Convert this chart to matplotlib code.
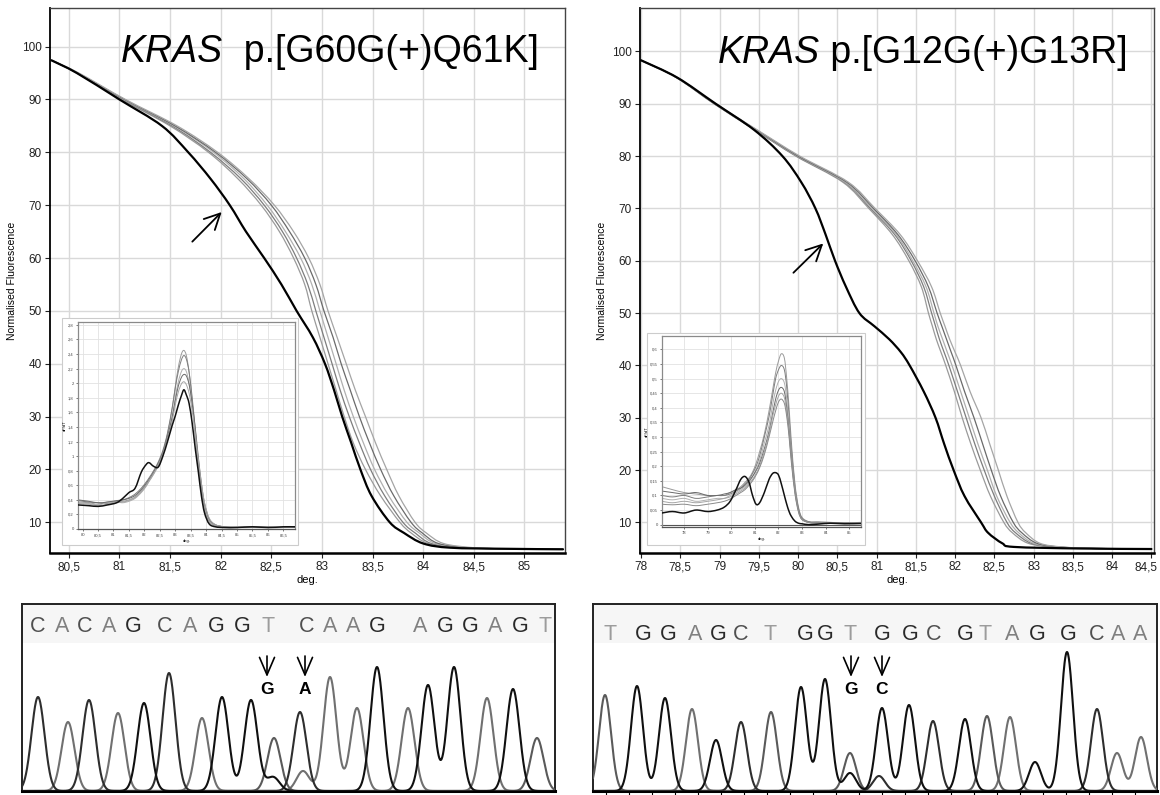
import numpy as np
import matplotlib
matplotlib.use('Agg')
import matplotlib.pyplot as plt
from matplotlib.patches import Rectangle, PathPatch
from matplotlib.path import Path
from matplotlib.transforms import ScaledTranslation

plt.rcParams['font.family'] = ['Liberation Sans', 'DejaVu Sans']

W, H = 1160, 795

# ---- melting curves: temperature (deg.) at which each curve crosses a fluorescence level ----
fluor_ticks = [10, 20, 30, 40, 50, 60, 70, 80, 90, 100]

left_levels = [97.4, 95, 90, 85, 80, 75, 70, 65, 60, 55, 50, 45, 40, 35, 30, 25, 20, 15, 10, 8, 6, 5.2, 5.0, 4.9]
left_mut = [80.33, 80.58, 81.0, 81.42, 81.68, 81.9, 82.09, 82.25, 82.43, 82.6, 82.75, 82.91, 83.03, 83.12,
            83.2, 83.29, 83.38, 83.49, 83.67, 83.81, 84.0, 84.27, 84.8, 85.38]
left_wt = [
    [80.33, 80.58, 81.02, 81.5, 81.88, 82.17, 82.4, 82.58, 82.72, 82.83, 82.9, 82.98, 83.06, 83.14,
     83.22, 83.31, 83.43, 83.58, 83.77, 83.88, 84.05, 84.35, 84.8, 85.38],
    [80.33, 80.58, 81.03, 81.52, 81.9, 82.2, 82.43, 82.61, 82.75, 82.86, 82.94, 83.02, 83.1, 83.18,
     83.27, 83.37, 83.48, 83.62, 83.8, 83.92, 84.08, 84.38, 84.8, 85.38],
    [80.33, 80.59, 81.04, 81.54, 81.93, 82.23, 82.46, 82.64, 82.79, 82.9, 82.98, 83.06, 83.14, 83.22,
     83.31, 83.41, 83.52, 83.66, 83.84, 83.96, 84.12, 84.42, 84.8, 85.38],
    [80.33, 80.59, 81.05, 81.55, 81.95, 82.26, 82.5, 82.68, 82.83, 82.94, 83.02, 83.11, 83.19, 83.28,
     83.37, 83.47, 83.58, 83.71, 83.88, 83.99, 84.15, 84.45, 84.8, 85.38],
    [80.33, 80.6, 81.06, 81.57, 81.97, 82.28, 82.53, 82.72, 82.87, 82.98, 83.06, 83.15, 83.24, 83.33,
     83.43, 83.53, 83.64, 83.76, 83.92, 84.03, 84.2, 84.5, 84.8, 85.38],
]
left_xticks = [80.5, 81, 81.5, 82, 82.5, 83, 83.5, 84, 84.5, 85]

right_levels = [98.3, 95, 90, 85, 80, 75, 70, 65, 60, 55, 50, 47.5, 45, 42.5, 40, 35, 30, 25, 20, 15, 10, 8, 6, 5.3, 5.0, 4.9]
right_mut = [78.0, 78.46, 78.95, 79.44, 79.8, 80.04, 80.22, 80.35, 80.47, 80.61, 80.78, 80.97, 81.16, 81.31,
             81.42, 81.6, 81.75, 81.86, 81.98, 82.12, 82.33, 82.42, 82.6, 82.75, 83.6, 84.5]
right_wt = [
    [78.0, 78.45, 78.93, 79.45, 79.97, 80.57, 80.9, 81.2, 81.41, 81.57, 81.66, 81.71, 81.76, 81.82,
     81.88, 81.99, 82.09, 82.2, 82.32, 82.45, 82.62, 82.73, 82.93, 83.25, 83.8, 84.5],
    [78.0, 78.45, 78.93, 79.45, 79.98, 80.59, 80.92, 81.23, 81.44, 81.6, 81.7, 81.75, 81.8, 81.86,
     81.92, 82.03, 82.14, 82.25, 82.37, 82.5, 82.66, 82.77, 82.97, 83.28, 83.8, 84.5],
    [78.0, 78.45, 78.94, 79.46, 79.99, 80.6, 80.94, 81.25, 81.46, 81.63, 81.73, 81.78, 81.84, 81.9,
     81.96, 82.07, 82.18, 82.29, 82.41, 82.53, 82.7, 82.81, 83.0, 83.3, 83.8, 84.5],
    [78.0, 78.46, 78.94, 79.47, 80.0, 80.62, 80.96, 81.27, 81.49, 81.66, 81.77, 81.83, 81.89, 81.95,
     82.01, 82.12, 82.24, 82.35, 82.46, 82.58, 82.74, 82.85, 83.04, 83.33, 83.8, 84.5],
    [78.0, 78.46, 78.95, 79.48, 80.02, 80.64, 80.98, 81.3, 81.52, 81.7, 81.81, 81.87, 81.93, 82.0,
     82.07, 82.19, 82.33, 82.44, 82.55, 82.66, 82.8, 82.9, 83.08, 83.36, 83.8, 84.5],
]
right_xticks = [78, 78.5, 79, 79.5, 80, 80.5, 81, 81.5, 82, 82.5, 83, 83.5, 84, 84.5]

# ---- derivative insets ----
ins_l_t = [79.85, 80.2, 80.5, 80.8, 81.1, 81.3, 81.5, 81.7, 81.9, 82.05, 82.15, 82.3, 82.45, 82.6, 82.75,
           82.9, 83.0, 83.1, 83.2, 83.28, 83.36, 83.45, 83.55, 83.65, 83.75, 83.85, 83.95, 84.1, 84.3,
           84.6, 85.0, 85.5, 86.0, 86.5, 86.88]
ins_l_mut = [0.33, 0.32, 0.31, 0.33, 0.36, 0.42, 0.5, 0.56, 0.78, 0.88, 0.91, 0.86, 0.85, 1.0, 1.2,
             1.42, 1.55, 1.7, 1.83, 1.91, 1.84, 1.72, 1.45, 1.1, 0.78, 0.45, 0.22, 0.07, 0.03,
             0.02, 0.02, 0.03, 0.02, 0.03, 0.03]
ins_l_wt = [
    [0.37, 0.36, 0.34, 0.37, 0.38, 0.38, 0.4, 0.44, 0.52, 0.6, 0.66, 0.76, 0.88, 1.05, 1.3, 1.65, 1.95,
     2.22, 2.4, 2.45, 2.38, 2.15, 1.75, 1.28, 0.85, 0.5, 0.26, 0.1, 0.04, 0.02, 0.02, 0.03, 0.02, 0.02, 0.03],
    [0.39, 0.37, 0.36, 0.35, 0.38, 0.4, 0.43, 0.48, 0.56, 0.64, 0.7, 0.8, 0.92, 1.08, 1.32, 1.66, 1.93,
     2.16, 2.32, 2.38, 2.33, 2.15, 1.8, 1.36, 0.92, 0.56, 0.3, 0.12, 0.05, 0.03, 0.02, 0.02, 0.03, 0.02, 0.03],
    [0.36, 0.35, 0.33, 0.36, 0.37, 0.36, 0.38, 0.42, 0.5, 0.58, 0.65, 0.75, 0.87, 1.03, 1.26, 1.55, 1.8,
     2.02, 2.16, 2.2, 2.16, 2.0, 1.7, 1.3, 0.9, 0.55, 0.3, 0.12, 0.05, 0.03, 0.03, 0.02, 0.02, 0.03, 0.02],
    [0.4, 0.38, 0.36, 0.37, 0.39, 0.4, 0.42, 0.46, 0.54, 0.62, 0.68, 0.78, 0.9, 1.05, 1.27, 1.53, 1.76,
     1.96, 2.08, 2.12, 2.1, 1.98, 1.72, 1.38, 0.98, 0.62, 0.35, 0.14, 0.06, 0.03, 0.02, 0.03, 0.02, 0.02, 0.03],
    [0.35, 0.34, 0.32, 0.34, 0.36, 0.37, 0.39, 0.43, 0.51, 0.59, 0.66, 0.76, 0.88, 1.03, 1.24, 1.48, 1.7,
     1.88, 1.99, 2.02, 1.98, 1.86, 1.62, 1.3, 0.95, 0.62, 0.36, 0.15, 0.06, 0.03, 0.03, 0.02, 0.02, 0.02, 0.02],
]
ins_l_xticks = [80, 80.5, 81, 81.5, 82, 82.5, 83, 83.5, 84, 84.5, 85, 85.5, 86, 86.5]
ins_l_yticks = [0, 0.2, 0.4, 0.6, 0.8, 1, 1.2, 1.4, 1.6, 1.8, 2, 2.2, 2.4, 2.6, 2.8]

ins_r_t = [77.06, 77.5, 78.0, 78.5, 79.0, 79.4, 79.7, 79.95, 80.2, 80.4, 80.58, 80.75, 80.9, 81.05, 81.2,
           81.4, 81.6, 81.75, 81.88, 82.0, 82.12, 82.25, 82.35, 82.45, 82.55, 82.7, 82.85, 83.0, 83.3,
           83.7, 84.2, 84.8, 85.5]
ins_r_mut = [0.04, 0.045, 0.04, 0.05, 0.045, 0.05, 0.06, 0.08, 0.12, 0.155, 0.165, 0.145, 0.1, 0.07, 0.075,
             0.11, 0.155, 0.175, 0.178, 0.17, 0.14, 0.1, 0.07, 0.045, 0.028, 0.012, 0.005, 0.003, 0.0,
             0.002, 0.005, 0.003, 0.004]
ins_r_wt = [
    [0.13, 0.12, 0.11, 0.105, 0.1, 0.1, 0.1, 0.11, 0.12, 0.13, 0.145, 0.16, 0.18, 0.21, 0.25, 0.31, 0.39,
     0.46, 0.52, 0.56, 0.585, 0.57, 0.5, 0.4, 0.28, 0.14, 0.06, 0.025, 0.01, 0.01, 0.008, 0.006, 0.008],
    [0.1, 0.095, 0.1, 0.09, 0.095, 0.1, 0.1, 0.105, 0.115, 0.125, 0.14, 0.155, 0.175, 0.2, 0.235, 0.3, 0.37,
     0.44, 0.5, 0.53, 0.545, 0.53, 0.47, 0.37, 0.26, 0.13, 0.055, 0.022, 0.01, 0.008, 0.006, 0.007, 0.005],
    [0.09, 0.085, 0.09, 0.08, 0.085, 0.09, 0.09, 0.1, 0.11, 0.12, 0.13, 0.145, 0.165, 0.19, 0.22, 0.28, 0.34,
     0.41, 0.46, 0.49, 0.5, 0.485, 0.43, 0.34, 0.24, 0.12, 0.05, 0.02, 0.008, 0.006, 0.005, 0.006, 0.004],
    [0.115, 0.11, 0.105, 0.11, 0.1, 0.1, 0.105, 0.11, 0.12, 0.125, 0.135, 0.15, 0.165, 0.185, 0.21, 0.26, 0.32,
     0.38, 0.43, 0.46, 0.47, 0.455, 0.4, 0.32, 0.23, 0.115, 0.05, 0.02, 0.008, 0.006, 0.005, 0.006, 0.004],
    [0.08, 0.075, 0.08, 0.075, 0.08, 0.085, 0.09, 0.095, 0.105, 0.115, 0.125, 0.14, 0.155, 0.175, 0.2, 0.25, 0.31,
     0.37, 0.41, 0.44, 0.45, 0.435, 0.385, 0.31, 0.22, 0.11, 0.045, 0.018, 0.007, 0.005, 0.005, 0.005, 0.004],
    [0.07, 0.068, 0.07, 0.065, 0.07, 0.075, 0.08, 0.088, 0.1, 0.11, 0.12, 0.135, 0.15, 0.17, 0.195, 0.24, 0.3,
     0.35, 0.39, 0.42, 0.43, 0.415, 0.37, 0.3, 0.21, 0.105, 0.043, 0.017, 0.007, 0.005, 0.004, 0.005, 0.004],
]
ins_r_xticks = [78, 79, 80, 81, 82, 83, 84, 85]
ins_r_yticks = [0, 0.05, 0.1, 0.15, 0.2, 0.25, 0.3, 0.35, 0.4, 0.45, 0.5, 0.55, 0.6]

# ---- sequencing traces: base calls, peak positions (scan units) and peak heights ----
left_bases = "CACAGCAGGTCAAGAGGAGT"
left_pos = [16, 46, 67, 96, 122, 147, 180, 200, 229, 252, 278, 308, 335, 355, 386, 406, 432, 465, 491, 515]
left_h = [94, 69, 91, 78, 88, 118, 73, 94, 91, 53, 79, 114, 83, 124, 83, 106, 124, 93, 102, 53]
left_letter_x = [16, 40, 63, 87, 111, 143, 168, 194, 220, 246, 285, 308, 331, 355, 398, 423, 448, 473, 498, 523]
left_minor = [("G", 251, 14), ("A", 281, 20)]
left_calls = [(245, "G"), (283, "A")]

right_bases = "TGGAGCTGGTGGCGTAGGCAA"
right_pos = [12, 44, 72, 99, 123, 148, 178, 208, 232, 257, 289, 316, 340, 372, 394, 417, 442, 474, 504, 524, 548]
right_h = [96, 105, 93, 82, 51, 69, 79, 104, 112, 38, 83, 86, 70, 72, 75, 74, 29, 139, 82, 38, 54]
right_letter_x = [17, 50, 75, 102, 125, 148, 177, 212, 232, 257, 289, 317, 341, 372, 392, 419, 444, 475, 504, 525, 547]
right_minor = [("G", 257, 18), ("C", 286, 15)]
right_calls = [(258, "G"), (289, "C")]

wt_colors = ['#9a9a9a', '#7d7d7d', '#b0b0b0', '#6a6a6a', '#a5a5a5', '#8a8a8a']
trace_colors = {'G': '#101010', 'C': '#2e2e2e', 'A': '#707070', 'T': '#5a5a5a'}
letter_colors = {'G': '#2a2a2a', 'C': '#505050', 'A': '#808080', 'T': '#9c9c9c'}


def px_rect(x0, y0, x1, y1):
    return [x0 / W, 1 - y1 / H, (x1 - x0) / W, (y1 - y0) / H]


def comma(v):
    return ('%g' % v).replace('.', ',')


def smooth(ax, xs, ys, color, lw, zorder=2):
    # smooth Bezier line passing through every read point
    p = np.column_stack([xs, ys]).astype(float)
    ext = np.vstack([p[0], p, p[-1]])
    verts = [p[0]]
    codes = [Path.MOVETO]
    for i in range(1, len(ext) - 2):
        p0, p1, p2, p3 = ext[i - 1], ext[i], ext[i + 1], ext[i + 2]
        verts += [p1 + (p2 - p0) / 6, p2 - (p3 - p1) / 6, p2]
        codes += [Path.CURVE4] * 3
    ax.add_patch(PathPatch(Path(verts, codes), facecolor='none', edgecolor=color,
                           lw=lw, zorder=zorder, capstyle='round', joinstyle='round'))


def draw_melt(ax, levels, wt_curves, mut, xlim, ylim, xticks, title, title_xy, arrow):
    for i, temps in enumerate(wt_curves):
        smooth(ax, temps, levels, wt_colors[i], 0.9)
    smooth(ax, mut, levels, 'black', 1.6, zorder=3)
    ax.set_xlim(xlim)
    ax.set_ylim(ylim)
    ax.set_xticks(xticks)
    ax.set_xticklabels([comma(v) for v in xticks])
    ax.set_yticks(fluor_ticks)
    ax.grid(True, color='#d9d9d9', lw=1.0)
    ax.set_axisbelow(True)
    ax.tick_params(labelsize=8.5, length=3.5, width=0.8, pad=2.5, colors='#222222')
    for s in ['top', 'right']:
        ax.spines[s].set_color('#444444')
        ax.spines[s].set_linewidth(1.0)
    ax.spines['left'].set_linewidth(1.3)
    ax.spines['bottom'].set_linewidth(1.8)
    ax.set_xlabel('deg.', fontsize=8, labelpad=1)
    ax.set_ylabel('Normalised Fluorescence', fontsize=7.5)
    ax.yaxis.set_label_coords(-0.064, 0.5)
    gene, rest = title
    t1 = ax.text(title_xy[0], title_xy[1], gene, style='italic', fontsize=27,
                 transform=ax.transAxes, va='baseline', zorder=5)
    ax.annotate(rest, xy=(1, 0), xycoords=t1, fontsize=27, va='bottom', ha='left', zorder=5)
    ax.annotate('', xy=arrow[1], xytext=arrow[0],
                arrowprops=dict(arrowstyle='->,head_length=0.7,head_width=0.35', lw=1.3,
                                color='black', mutation_scale=16, shrinkA=0, shrinkB=0))


def draw_inset(fig, frame_px, area_px, t, wt, mut, xlim, ylim, xticks, yticks):
    x0, y0, x1, y1 = frame_px
    fig.add_artist(Rectangle((x0 / W, 1 - y1 / H), (x1 - x0) / W, (y1 - y0) / H,
                             transform=fig.transFigure, facecolor='white',
                             edgecolor='#cccccc', lw=0.8, zorder=1))
    ax = fig.add_axes(px_rect(*area_px))
    ax.set_zorder(2)
    for i, vals in enumerate(wt):
        smooth(ax, t, vals, wt_colors[i], 0.7)
    smooth(ax, t, mut, '#111111', 1.1, zorder=3)
    ax.set_xlim(xlim)
    ax.set_ylim(ylim)
    ax.set_xticks(xticks)
    ax.set_xticklabels([comma(v) for v in xticks])
    ax.set_yticks(yticks)
    ax.set_yticklabels([comma(v) for v in yticks])
    ax.grid(True, color='#e2e2e2', lw=0.6)
    ax.set_axisbelow(True)
    ax.tick_params(labelsize=3, length=1.5, width=0.5, pad=1.5, colors='#444444')
    for s in ax.spines.values():
        s.set_color('#8a8a8a')
        s.set_linewidth(0.9)
    ax.spines['bottom'].set_color('#555555')
    ax.set_xlabel('deg.', fontsize=3, labelpad=1)
    ax.set_ylabel('dF/dT', fontsize=3, labelpad=1)
    return ax


def draw_trace(ax, bases, pos, heights, letter_x, minor, calls, width, sigma, letter_y):
    xs = np.linspace(0, width, 1600)
    peaks = list(zip(bases, pos, heights)) + minor
    for b in 'ATCG':
        y = np.zeros_like(xs)
        for bb, p, h in peaks:
            if bb == b:
                y += h * np.exp(-0.5 * ((xs - p) / sigma) ** 2)
        ax.plot(xs, y, color=trace_colors[b], lw=1.5, zorder=3)
    for b, p in zip(bases, letter_x):
        ax.text(p, letter_y, b, fontsize=15.5, color=letter_colors[b], ha='center', va='center', zorder=4)
    for p, b in calls:
        ax.annotate('', xy=(p, 114), xytext=(p, 135),
                    arrowprops=dict(arrowstyle='->,head_length=0.7,head_width=0.3', lw=1.2,
                                    color='black', mutation_scale=18, shrinkA=0, shrinkB=0))
        ax.text(p, 102, b, fontsize=12.5, fontweight='bold', ha='center', va='center', zorder=4)
    ax.axhspan(148, 187, color='#f6f6f6', zorder=0, lw=0)
    ax.set_xlim(0, width)
    ax.set_ylim(0, 187)
    ax.set_yticks([])
    for s in ax.spines.values():
        s.set_linewidth(1.4)
        s.set_color('#222222')
    ax.spines['bottom'].set_linewidth(2.2)
    ax.spines['bottom'].set_color('black')


fig = plt.figure(figsize=(W / 100, H / 100), dpi=100)

ax_l = fig.add_axes(px_rect(50, 8, 565, 553))
draw_melt(ax_l, left_levels, left_wt, left_mut, (80.315, 85.4), (4.2, 107.3), left_xticks,
          ('KRAS', '  p.[G60G(+)Q61K]'), (0.137, 0.9015), ((81.72, 63.1), (82.01, 68.7)))

ax_r = fig.add_axes(px_rect(640, 8, 1154, 553))
draw_melt(ax_r, right_levels, right_wt, right_mut, (77.986, 84.533), (4.14, 108.3), right_xticks,
          ('KRAS', ' p.[G12G(+)G13R]'), (0.152, 0.8996), ((79.94, 57.7), (80.32, 63.3)))
# keep the last tick label inside the picture
last = ax_r.get_xticklabels()[-1]
last.set_transform(last.get_transform() + ScaledTranslation(-0.05, 0, fig.dpi_scale_trans))

draw_inset(fig, (62, 318, 298, 545), (78, 322, 295, 529), ins_l_t, ins_l_wt, ins_l_mut,
           (79.85, 86.88), (0, 2.84), ins_l_xticks, ins_l_yticks)
ins_r = draw_inset(fig, (647, 333, 865, 545), (662, 336, 861, 527), ins_r_t, ins_r_wt, ins_r_mut,
                   (77.06, 85.5), (-0.008, 0.646), ins_r_xticks, ins_r_yticks)
ins_r.axhline(0, color='#555555', lw=0.8)

tr_l = fig.add_axes(px_rect(22, 604, 555, 791))
draw_trace(tr_l, left_bases, left_pos, left_h, left_letter_x, left_minor, left_calls, 533, 6.5, 164)
tr_l.set_xticks([])

tr_r = fig.add_axes(px_rect(593, 604, 1157, 791))
draw_trace(tr_r, right_bases, right_pos, right_h, right_letter_x, right_minor, right_calls, 564, 6.0, 157)
tr_r.set_xticks(np.arange(13, 564, 23))
tr_r.tick_params(axis='x', length=4, width=0.8, labelbottom=False, direction='out')

fig.savefig('out.png', dpi=100)
